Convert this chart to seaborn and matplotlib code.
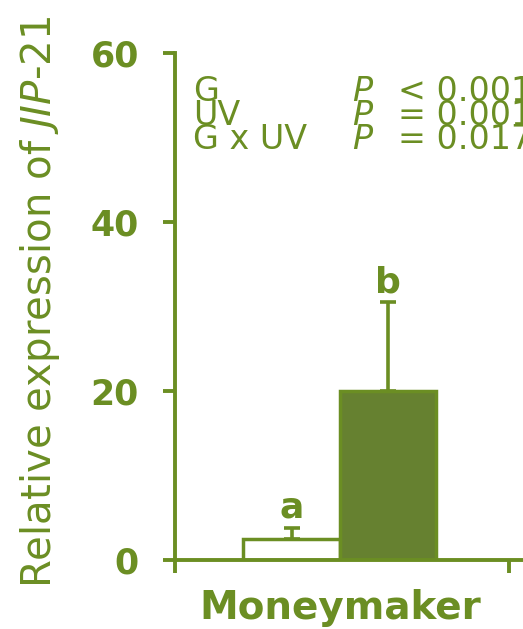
import pandas as pd
import matplotlib
matplotlib.use("Agg")
import matplotlib.pyplot as plt
import seaborn as sns

# dados
genotipo = ["Moneymaker", "Moneymaker"]
tratamento = ["-UV", "+UV"]
expressao = [2.5, 20.0]
erro = [1.3, 10.5]
letras = ["a", "b"]
termos = ["G", "UV", "G x UV"]
sinais = ["< 0.001", "= 0.001", "= 0.017"]
yticks = [0, 20, 40, 60]

verde = "#6B8E23"

df = pd.DataFrame({"Genotipo": genotipo, "Tratamento": tratamento, "Expressao": expressao})

sns.set_theme(style="ticks")
plt.rcParams["font.family"] = ["DejaVu Sans"]
plt.rcParams["mathtext.fontset"] = "dejavusans"

fig = plt.figure(figsize=(5.23, 6.29), dpi=100)
ax = fig.add_axes([175 / 523, 1 - 560 / 629, 348 / 523, 507 / 629])

sns.barplot(data=df, x="Genotipo", y="Expressao", hue="Tratamento",
            palette={"-UV": "white", "+UV": verde}, edgecolor=verde,
            linewidth=2.5, errorbar=None, legend=False, ax=ax)

centros = [p.get_x() + p.get_width() / 2 for p in ax.patches]
ax.errorbar(centros, expressao, yerr=[[0, 0], erro], fmt="none",
            ecolor=verde, elinewidth=2.6, capsize=6, capthick=2.6)

for x, m, e, l in zip(centros, expressao, erro, letras):
    ax.text(x, m + e + 1.2, l, ha="center", va="baseline",
            fontsize=26, fontweight="bold", color=verde)

ax.set_ylim(0, 60)
ax.set_xlim(-0.684, 0.76)
ax.set_yticks(yticks)
ax.tick_params(axis="y", colors=verde, length=9, width=2.8, pad=17,
               labelsize=25)
for t in ax.get_yticklabels():
    t.set_fontweight("bold")
ax.tick_params(axis="x", which="major", length=0, pad=21, labelsize=28,
               labelcolor=verde)
for t in ax.get_xticklabels():
    t.set_fontweight("bold")
ax.set_xticks([-0.684, 0.7], minor=True)
ax.tick_params(axis="x", which="minor", length=9, width=2.8, color=verde)

sns.despine(ax=ax)
for s in ["left", "bottom"]:
    ax.spines[s].set_color(verde)
    ax.spines[s].set_linewidth(2.8)

ax.set_xlabel("")
ax.set_ylabel(r"Relative expression of $\mathit{JIP}$-$\mathit{21}$",
              fontsize=29, color=verde, loc="bottom")
ax.yaxis.set_label_coords(-0.325, -0.055)

# tabela de P, tres colunas
kw = dict(transform=ax.transAxes, fontsize=24, color=verde, va="top",
          linespacing=0.66)
ax.text(0.052, 0.957, "\n".join(termos), **kw)
ax.text(0.509, 0.957, "\n".join(["P"] * len(termos)), style="italic", **kw)
ax.text(0.64, 0.957, "\n".join(sinais), **kw)

fig.savefig("out.png", dpi=100)
